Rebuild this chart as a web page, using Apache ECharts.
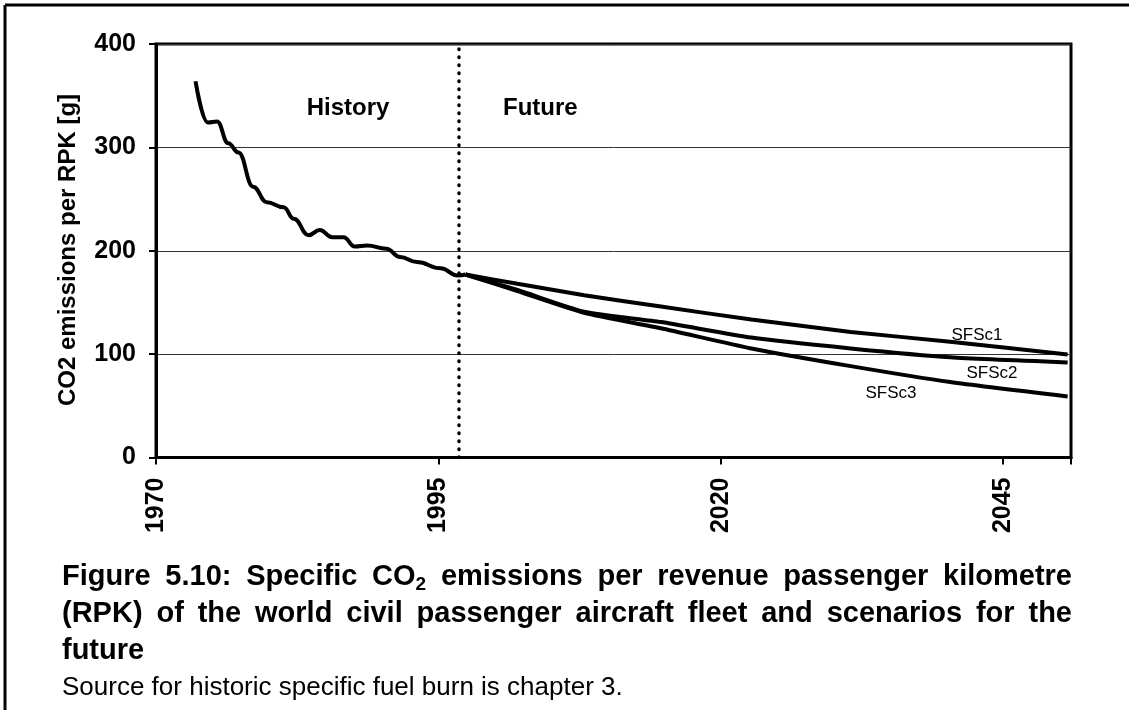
<!DOCTYPE html>
<html>
<head>
<meta charset="utf-8">
<script src="https://cdn.jsdelivr.net/npm/echarts@6/dist/echarts.min.js"></script>
<style>
html,body{margin:0;padding:0;background:#fff;}
#chart{width:1129px;height:710px;}
</style>
</head>
<body>
<div id="chart"></div>
<script>
// ---- data ----
const xTickYears = [1970, 1995, 2020, 2045];
const yTicks = [0, 100, 200, 300, 400];
const histYears  = [1973.5,1974.6,1975.4,1976.4,1977.3,1978.6,1979.8,1981.3,1982.2,1983.5,1984.5,1985.6,1986.6,1987.6,1988.7,1990.4,1991.6,1993.1,1995.2,1996.7,1997.4];
const histValues = [364,324,325,304,295,262,247,242,231,215,220,213,213,204,205,202,194,189,183,176,177];
const futureYears = [1997.4, 2002, 2007.9, 2014.7, 2022.7, 2031.5, 2040.3, 2050.7];
const sfsc1 = [177, 168, 157, 146, 133.5, 121.5, 112, 99.7];
const sfsc2 = [177, 162, 141, 131, 116, 105.5, 97, 92];
const sfsc3 = [177, 161, 140, 125, 105.5, 88.4, 73, 59];
const dividerYear = 1996.8;
const seriesNames = ['History', 'SFSc1', 'SFSc2', 'SFSc3'];
const periodLabels = ['History', 'Future'];
const yAxisTitle = 'CO2 emissions per RPK [g]';
const captionLine1 = ['Figure', '5.10:', 'Specific', 'CO_2', 'emissions', 'per', 'revenue', 'passenger', 'kilometre'];
const captionLine2 = ['(RPK)', 'of', 'the', 'world', 'civil', 'passenger', 'aircraft', 'fleet', 'and', 'scenarios', 'for', 'the'];
const captionLine3 = 'future';
const sourceLine = 'Source for historic specific fuel burn is chapter 3.';

// ---- helpers ----
const FF = '"Liberation Sans", Arial, sans-serif';
const mctx = document.createElement('canvas').getContext('2d');
function tw(t, font) { mctx.font = font; return mctx.measureText(t).width; }
function zip(xs, ys) { return xs.map((x, i) => [x, ys[i]]); }

const capFont = 'bold 29px ' + FF;
const subFont = 'bold 19px ' + FF;
function wordW(w) { return w === 'CO_2' ? tw('CO', capFont) + tw('2', subFont) : tw(w, capFont); }
function justified(words, x0, x1, y) {
  const total = words.reduce((s, w) => s + wordW(w), 0);
  const gap = (x1 - x0 - total) / (words.length - 1);
  const els = [];
  let x = x0;
  words.forEach(w => {
    if (w === 'CO_2') {
      els.push({type:'text', x: x, y: y, style:{text:'CO', font: capFont, fill:'#000', textAlign:'left', textVerticalAlign:'middle'}});
      const cw = tw('CO', capFont);
      els.push({type:'text', x: x + cw, y: y + 8, style:{text:'2', font: subFont, fill:'#000', textAlign:'left', textVerticalAlign:'middle'}});
    } else {
      els.push({type:'text', x: x, y: y, style:{text:w, font: capFont, fill:'#000', textAlign:'left', textVerticalAlign:'middle'}});
    }
    x += wordW(w) + gap;
  });
  return els;
}

const lineStyleMain = {color:'#000', width:4};
const chart = echarts.init(document.getElementById('chart'), null, {renderer:'canvas'});

const graphics = [
  {type:'line', shape:{x1:5, y1:5, x2:1129, y2:5}, style:{stroke:'#000', lineWidth:3}},
  {type:'line', shape:{x1:5, y1:5, x2:5, y2:710}, style:{stroke:'#000', lineWidth:3}},
  {type:'text', x:68, y:250, rotation:Math.PI/2, style:{text:yAxisTitle, font:'bold 24px ' + FF, fill:'#000', textAlign:'center', textVerticalAlign:'middle'}},
  {type:'text', x:348, y:108, style:{text:periodLabels[0], font:'bold 24px ' + FF, fill:'#000', textAlign:'center', textVerticalAlign:'middle'}},
  {type:'text', x:503, y:108, style:{text:periodLabels[1], font:'bold 24px ' + FF, fill:'#000', textAlign:'left', textVerticalAlign:'middle'}},
  {type:'text', x:977, y:335, style:{text:seriesNames[1], font:'17px ' + FF, fill:'#000', textAlign:'center', textVerticalAlign:'middle'}},
  {type:'text', x:992, y:373, style:{text:seriesNames[2], font:'17px ' + FF, fill:'#000', textAlign:'center', textVerticalAlign:'middle'}},
  {type:'text', x:891, y:393, style:{text:seriesNames[3], font:'17px ' + FF, fill:'#000', textAlign:'center', textVerticalAlign:'middle'}},
  ...justified(captionLine1, 62, 1072, 577),
  ...justified(captionLine2, 62, 1072, 614),
  {type:'text', x:62, y:651, style:{text:captionLine3, font:capFont, fill:'#000', textAlign:'left', textVerticalAlign:'middle'}},
  {type:'text', x:62, y:688, style:{text:sourceLine, font:'26px ' + FF, fill:'#000', textAlign:'left', textVerticalAlign:'middle'}}
];

const option = {
  animation: false,
  backgroundColor: '#fff',
  grid: {left:156, right:58, top:44, bottom:252.5, show:true, borderColor:'#000', borderWidth:3, backgroundColor:'transparent'},
  xAxis: {
    type:'value', min:xTickYears[0], max:2051, interval:25,
    axisLine:{show:true, lineStyle:{color:'#000', width:3}},
    axisTick:{show:true, length:7, lineStyle:{color:'#000', width:2}},
    axisLabel:{rotate:90, margin:20, color:'#000', fontFamily:FF, fontWeight:'bold', fontSize:25,
      formatter: v => xTickYears.includes(v) ? String(v) : ''},
    splitLine:{show:false}
  },
  yAxis: {
    type:'value', min:yTicks[0], max:yTicks[yTicks.length-1], interval:100,
    axisLine:{show:true, lineStyle:{color:'#000', width:3}},
    axisTick:{show:true, length:7, lineStyle:{color:'#000', width:2}},
    axisLabel:{margin:20, color:'#000', fontFamily:FF, fontWeight:'bold', fontSize:25},
    splitLine:{show:true, lineStyle:{color:'#333', width:1}}
  },
  series: [
    {name:seriesNames[0], type:'line', data:zip(histYears, histValues), showSymbol:false, smooth:0.45, smoothMonotone:'x', lineStyle:lineStyleMain, z:3,
      markLine:{silent:true, symbol:['none','none'], label:{show:false},
        lineStyle:{color:'#000', width:3.5, type:[0.5,7.5], cap:'round'},
        data:[{xAxis:dividerYear}]}},
    {name:seriesNames[1], type:'line', data:zip(futureYears, sfsc1), showSymbol:false, smooth:0.2, lineStyle:lineStyleMain},
    {name:seriesNames[2], type:'line', data:zip(futureYears, sfsc2), showSymbol:false, smooth:0.2, lineStyle:lineStyleMain},
    {name:seriesNames[3], type:'line', data:zip(futureYears, sfsc3), showSymbol:false, smooth:0.2, lineStyle:lineStyleMain}
  ],
  graphic: graphics
};
chart.setOption(option);
</script>
</body>
</html>
